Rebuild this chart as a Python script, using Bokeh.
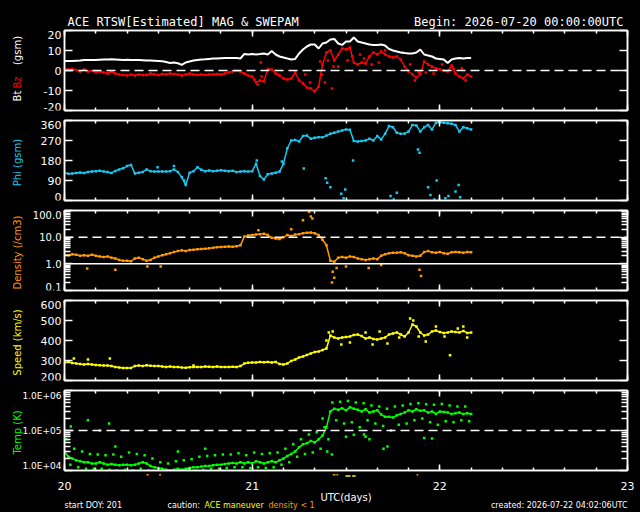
import math
import numpy as np
from bokeh.plotting import figure
from bokeh.layouts import column, row
from bokeh.models import Range1d, LinearAxis, LogAxis, FixedTicker, Span
from bokeh.core.properties import value
from bokeh.embed import file_html
from bokeh.resources import INLINE

# ---------------- data ----------------
START_DAY = 20        # axis starts at day 20 (UTC days)
STEP_HOURS = 0.5      # sample spacing of the main series (hours)

bt = [4.8, 4.8, 4.8, 4.9, 5.0, 5.2, 5.3, 5.3, 5.3, 5.4,
      5.5, 5.5, 5.6, 5.5, 5.4, 5.3, 5.4, 5.3, 5.3, 5.2,
      5.1, 5.0, 5.0, 4.9, 4.8, 4.6, 4.2, 3.8, 4.0, 3.6,
      2.8, 4.0, 4.5, 5.0, 5.3, 5.5, 5.6, 5.8, 6.0, 6.0,
      6.1, 6.2, 6.2, 6.3, 6.3, 6.0, 8.3, 8.0, 8.3, 8.0,
      8.2, 8.5, 8.0, 9.7, 8.0, 7.0, 6.5, 6.0, 5.5, 5.8,
      8.5, 10.5, 12.0, 13.0, 13.0, 11.0, 13.5, 14.0, 15.5, 15.8,
      13.5, 12.8, 14.5, 14.5, 16.5, 14.5, 14.0, 13.5, 13.0, 12.8,
      12.8, 13.0, 12.5, 10.8, 10.0, 9.5, 9.0, 8.7, 8.5, 8.5,
      9.0, 10.5, 8.0, 7.5, 7.0, 6.0, 5.8, 5.5, 3.8, 5.5,
      6.0, 6.2, 6.0, 6.2, 6.3]

bz = [1.0, 0.5, 0.8, 0.2, -0.5, 0.5, -0.5, -0.3, -0.8, -0.5,
      -1.0, -1.5, -0.5, -1.5, -2.0, -2.3, -2.5, -2.0, -2.5, -2.0,
      -2.3, -2.2, -1.5, -2.0, -2.2, -1.8, -2.0, -1.5, -1.8, -2.0,
      -2.5, -2.0, -1.5, -2.0, -2.3, -2.0, -2.2, -2.0, -2.0, -1.8,
      -2.0, -1.5, -1.0, -0.5, -0.3, -0.5, -1.5, -2.5, -3.0, -6.0,
      -5.0, -5.5, 0.8, 0.5, -1.5, -2.5, -4.0, -4.5, -4.0, -1.0,
      -5.0, -6.5, -8.5, -9.0, -10.5, -8.0, 3.0, 9.0, 10.0, 5.0,
      8.0, 11.0, 10.5, 11.5, 4.0, 3.0, 4.0, 3.5, 7.0, 9.0,
      8.0, 9.5, 8.0, 7.0, 6.5, 7.0, 5.5, 2.0, -0.5, -2.0,
      -3.5, -2.0, 4.5, 3.0, 2.0, 1.0, 0.5, 0.0, -0.5, 2.5,
      -1.5, -3.0, -4.0, -2.0, -3.0]
bz_extra_h = [24.3, 24.7, 25.1, 25.2, 30.8, 31.4, 32.7, 32.9, 33.3, 33.7,
              34.2, 34.4, 35.0, 36.2, 36.8, 37.8, 38.3, 39.3, 40.2, 41.0,
              43.2, 44.2, 44.8, 45.3, 46.2, 47.2, 48.3, 49.8, 50.8, 51.3]
bz_extra = [-4.5, -7.0, 4.0, -3.0, -2.0, -6.0, 4.5, -2.0, -6.0, 5.0,
            -9.0, 2.0, 2.0, 5.0, 7.0, 8.0, 6.0, 3.0, 4.0, 10.0,
            9.0, 3.0, -5.0, -1.0, -1.0, -1.5, 3.0, 0.5, 1.0, -5.0]

phi = [125, 120, 122, 124, 126, 124, 128, 130, 132, 134,
       130, 128, 124, 133, 140, 145, 155, 160, 122, 125,
       128, 140, 132, 130, 130, 130, 130, 132, 140, 128,
       105, 70, 125, 132, 150, 138, 132, 135, 132, 134,
       136, 134, 132, 134, 128, 130, 132, 130, 132, 165,
       110, 95, 118, 122, 125, 130, 165, 235, 270, 272,
       265, 290, 292, 278, 282, 285, 285, 292, 300, 305,
       310, 315, 320, 318, 268, 265, 268, 270, 278, 270,
       290, 275, 300, 335, 330, 305, 300, 302, 310, 340,
       338, 310, 330, 340, 320, 350, 352, 350, 348, 345,
       340, 310, 330, 325, 320]
phi_extra_h = [33.4, 33.6, 34.0, 35.4, 35.7, 35.9, 41.7, 42.1, 42.5, 46.5,
               46.8, 47.3, 47.6, 48.7, 49.1, 50.0, 50.4, 50.6, 45.2, 45.4,
               36.9, 30.6, 27.8, 24.6, 15.3, 14.0, 11.9]
phi_extra = [100, 80, 60, 30, 10, 50, 20, 5, 35, 60,
             25, 5, 90, 10, 20, 40, 70, 15, 230, 215,
             180, 144, 175, 180, 90, 155, 150]

density = [2.2, 2.1, 2.3, 2.2, 2.0, 2.1, 2.0, 2.2, 2.0, 1.9,
           1.8, 1.9, 1.7, 1.6, 1.4, 1.3, 1.3, 1.25, 1.6, 1.7,
           1.5, 1.3, 1.4, 1.7, 1.9, 2.1, 2.3, 2.5, 2.8, 3.0,
           3.2, 3.0, 3.3, 3.4, 3.5, 3.6, 3.7, 3.8, 4.0, 4.2,
           4.3, 4.4, 4.5, 4.4, 4.6, 5.0, 10.5, 11.5, 12.0, 12.5,
           13.0, 13.5, 12.0, 9.5, 9.0, 8.5, 10.0, 12.0, 11.0, 12.5,
           13.0, 14.0, 14.5, 15.0, 14.0, 12.0, 8.0, 5.0, 1.3, 1.2,
           1.7, 1.8, 1.7, 1.9, 1.8, 1.6, 1.5, 1.4, 1.5, 1.6,
           1.5, 2.0, 2.3, 2.5, 2.6, 2.6, 2.7, 2.5, 2.1, 2.0,
           1.9, 2.0, 2.8, 3.0, 2.7, 2.6, 2.8, 2.5, 2.4, 2.7,
           2.8, 2.7, 2.6, 2.8, 2.7]
density_extra_h = [34.3, 34.5, 34.2, 34.8, 45.4, 45.6, 2.9, 6.5, 10.6, 12.3,
                   31.3, 31.5, 31.7, 30.5, 29.0, 24.8, 36.0, 38.9, 40.5]
density_extra = [0.5, 0.3, 0.2, 0.7, 0.6, 0.35, 0.67, 0.6, 0.8, 0.8,
                 90, 60, 50, 43, 20, 18, 0.8, 0.7, 0.9]

speed = [290, 292, 288, 285, 282, 280, 282, 280, 278, 276,
         275, 275, 272, 268, 265, 263, 262, 263, 272, 275,
         273, 276, 274, 273, 272, 270, 268, 270, 267, 268,
         265, 264, 266, 267, 268, 268, 270, 269, 268, 270,
         268, 267, 268, 269, 268, 272, 285, 289, 290, 290,
         292, 291, 292, 290, 292, 283, 280, 285, 298, 305,
         315, 320, 328, 335, 342, 345, 352, 360, 425, 415,
         410, 415, 418, 420, 428, 430, 422, 410, 415, 408,
         405, 410, 415, 430, 435, 440, 430, 420, 440, 480,
         470, 440, 425, 430, 445, 450, 442, 438, 440, 445,
         442, 440, 448, 438, 440]
speed_extra_h = [1.2, 3.0, 5.8, 16.5, 33.8, 34.3, 33.5, 35.4, 36.5, 38.5,
                 39.4, 40.3, 41.3, 42.8, 44.2, 44.6, 45.3, 46.2, 47.5, 48.6,
                 50.3, 51.0, 51.5, 49.3]
speed_extra = [310, 305, 310, 275, 440, 445, 400, 380, 390, 440,
               380, 445, 385, 415, 510, 500, 420, 395, 470, 420,
               460, 470, 415, 326]

TEMP_UNIT = 1.0e4     # temperature lists are in units of 1e4 K
temp = [3.0, 2.2, 2.0, 1.8, 1.7, 1.6, 1.6, 1.5, 1.5, 1.6,
        1.5, 1.4, 1.45, 1.4, 1.35, 1.4, 1.4, 1.35, 1.4, 1.5,
        1.6, 1.5, 1.3, 1.2, 1.15, 1.1, 1.05, 1.0, 1.05, 1.1,
        1.05, 1.1, 1.15, 1.2, 1.2, 1.25, 1.3, 1.3, 1.35, 1.4,
        1.4, 1.45, 1.5, 1.55, 1.5, 1.6, 1.5, 1.6, 1.5, 1.7,
        1.6, 1.5, 1.6, 1.7, 1.6, 1.8, 2.0, 2.3, 2.6, 3.0,
        3.8, 4.5, 4.8, 5.5, 5.0, 6.0, 7.5, 12.0, 30.0, 35.0,
        33.0, 36.0, 32.0, 38.0, 35.0, 33.0, 30.0, 34.0, 28.0, 30.0,
        32.0, 25.0, 22.0, 22.0, 21.0, 24.0, 26.0, 28.0, 32.0, 30.0,
        34.0, 31.0, 32.0, 28.0, 30.0, 26.0, 30.0, 29.0, 28.0, 26.0,
        27.0, 28.0, 26.0, 27.0, 26.0]
temp_hi = [6.0, 3.5, 3.0, 2.6, 2.5, 2.4, 2.5, 2.2, 2.8, 2.6,
           2.4, 2.0, 1.6, 1.5, 1.7, 1.8, 1.9, 2.2, 2.3, 2.4,
           2.5, 2.5, 2.7, 2.4, 2.8, 2.6, 2.7, 2.8, 3.5, 4.5,
           6.0, 8.0, 9.0, 12.0, 50, 52, 55, 50, 48, 42,
           40, 35, 40, 42, 46, 48, 45, 44, 46, 42,
           40, 40]
temp_lo = [1.4, 1.2, 1.1, 1.1, 1.1, 1.05, 1.0, 1.05, 1.0, 1.1,
           1.0, 0.95, 0.9, 0.9, 0.95, 1.0, 1.0, 1.05, 1.1, 1.1,
           1.15, 1.2, 1.2, 1.15, 1.2, 1.15, 1.2, 1.4, 1.6, 2.2,
           2.6, 2.8, 3.5, 6.0, 18, 15, 16, 12, 18, 15,
           13, 10, 14, 15, 18, 20, 16, 14, 17, 16,
           18, 17]
temp_extra_h = [0.8, 3.0, 4.5, 5.7, 6.5, 14.5, 18.0, 33.0, 36.0, 38.3,
                39.0, 40.8, 41.3, 37.0, 38.5, 46.0, 47.0, 34.2, 33.6]
temp_extra = [12.6, 18.0, 10.0, 15.0, 4.0, 3.0, 3.5, 20.0, 7.0, 8.0,
              6.0, 3.5, 4.0, 7.8, 7.0, 6.5, 6.3, 2.5, 3.0]

# caution flags (start/end in days) drawn under the last panel
maneuver_start = [21.497, 21.533]
maneuver_end = [21.524, 21.551]
lowdens_start = [20.437, 20.504, 21.430, 21.449, 21.876]
lowdens_end = [20.448, 20.514, 21.444, 21.458, 21.885]

# axis ticks and labels
day_ticks = [20, 21, 22, 23]
day_labels = ["20", "21", "22", "23"]
day_minor = [20 + k / 6 for k in range(19)]
bz_ticks = [-20, -10, 0, 10, 20]
bz_labels = ["-20", "-10", "0", "10", "20"]
phi_ticks = [0, 90, 180, 270, 360]
phi_labels = ["0", "90", "180", "270", "360"]
dens_ticks = [0.1, 1, 10, 100]
dens_labels = ["0.1", "1.0", "10.0", "100.0"]
dens_minor = [m * 10.0 ** e for e in (-1, 0, 1) for m in range(2, 10)]
speed_ticks = [200, 300, 400, 500, 600]
speed_labels = ["200", "300", "400", "500", "600"]
temp_ticks = [1e4, 1e5, 1e6]
temp_labels = ["1.0E+04", "1.0E+05", "1.0E+06"]
temp_minor = [m * 10.0 ** e for e in (4, 5) for m in range(2, 10)]

# ---------------- layout constants ----------------
FONT = "DejaVu Sans"
MONO = "DejaVu Sans Mono"
C_BZ = "#ff0000"
C_PHI = "#18c8f0"
C_DEN = "#ff9900"
C_SPD = "#ffff00"
C_TMP = "#00ff00"
STRIP_W = 62          # width of the left label strip
FRAME_H = 80
PX_PER_DAY = 563 / 3  # plot frame width / 3 days
TICKLAB_X = 61
BLACK = {"background-color": "#000000"}


def stacked(z, overlap=False):
    """black block style; later blocks sit above earlier ones"""
    st = {"background-color": "#000000", "position": "relative", "z-index": str(z)}
    if overlap:
        st["margin-bottom"] = "-1px"
    return st


def to_day(h):
    return START_DAY + np.asarray(h, dtype=float) / 24.0


def main_days(series):
    return to_day(np.arange(len(series)) * STEP_HOURS)


AX = dict(axis_line_color="white", axis_line_width=1.5,
          major_tick_line_color="white", major_tick_line_width=1.5,
          minor_tick_line_color="white", minor_tick_line_width=1.5,
          major_tick_out=0, minor_tick_out=0)


def tick_axis(axcls, ticks, minor, maj_in, min_in):
    return axcls(ticker=FixedTicker(ticks=ticks, minor_ticks=minor),
                 major_label_overrides={t: "" for t in ticks},
                 major_label_text_font_size="0px", major_label_standoff=0,
                 major_tick_in=maj_in, minor_tick_in=min_in, **AX)


def blank(width, height, xr, yr, log=False, top=0, bottom=0, styles=None):
    p = figure(width=width, height=height, x_range=xr, y_range=yr,
               y_axis_type="log" if log else "linear",
               x_axis_location=None, y_axis_location=None,
               output_backend="svg", toolbar_location=None,
               min_border_left=0, min_border_right=0,
               min_border_top=top, min_border_bottom=bottom,
               background_fill_color="black", border_fill_color="black",
               outline_line_color=None, styles=styles or BLACK)
    p.grid.visible = False
    return p


def panel(top, bottom, ylo, yhi, log, yticks, yminor):
    p = figure(width=640 - STRIP_W, height=top + FRAME_H + bottom,
               x_range=Range1d(20, 23), y_range=Range1d(ylo, yhi),
               y_axis_type="log" if log else "linear",
               x_axis_location=None, y_axis_location=None,
               output_backend="svg", toolbar_location=None,
               min_border_left=64 - STRIP_W, min_border_right=13,
               min_border_top=top, min_border_bottom=bottom,
               background_fill_color="black", border_fill_color="black",
               outline_line_color="white", outline_line_width=1.5, styles=BLACK)
    p.grid.visible = False
    Y = LogAxis if log else LinearAxis
    p.add_layout(tick_axis(Y, yticks, yminor, 8, 6), "left")
    p.add_layout(tick_axis(Y, yticks, yminor, 8, 6), "right")
    p.add_layout(tick_axis(LinearAxis, day_ticks, day_minor, 6, 3), "above")
    p.add_layout(tick_axis(LinearAxis, day_ticks, day_minor, 6, 3), "below")
    return p


def y_at(p, log, rel_px):
    """value that sits rel_px pixels above the bottom of panel p's frame"""
    lo, hi = p.y_range.start, p.y_range.end
    if log:
        return 10 ** (math.log10(lo) + rel_px / FRAME_H * (math.log10(hi) - math.log10(lo)))
    return lo + rel_px / FRAME_H * (hi - lo)


def strip(p, log, ticks, labels, size):
    s = blank(STRIP_W, p.height, Range1d(0, STRIP_W), p.y_range, log=log,
              top=p.min_border_top, bottom=p.min_border_bottom)
    common = dict(text_color="white", text_font=value(FONT), text_font_size=size,
                  text_align="right")
    n = len(ticks)
    s.text(x=[TICKLAB_X] * (n - 2), y=ticks[1:-1], text=labels[1:-1],
           text_baseline="middle", **common)
    s.text(x=[TICKLAB_X], y=[ticks[-1]], text=[labels[-1]], text_baseline="top", **common)
    s.text(x=[TICKLAB_X], y=[ticks[0]], text=[labels[0]], text_baseline="bottom", **common)
    return s


def ytitle(s, p, log, text, color, rel=38):
    s.text(x=[17], y=[y_at(p, log, rel)], text=[text], angle=math.pi / 2,
           text_align="center", text_baseline="middle", text_color=color,
           text_font=value(FONT), text_font_size="10px")


def dash(p, loc, dashed=True):
    p.add_layout(Span(location=loc, dimension="width", line_color="white",
                      line_width=1.5, line_dash="9 5" if dashed else "solid"))


def trace(p, days, vals, color, lw=1.5, size=2.5):
    p.line(days, vals, line_color=color, line_width=lw)
    p.scatter(days, vals, marker="square", size=size, fill_color=color, line_color=None)


def dots(p, days, vals, color, size=2.5):
    p.scatter(days, vals, marker="square", size=size, fill_color=color, line_color=None)


def note(p, x, y, text, color="white", align="left", size="8px", font=FONT, **kw):
    p.text(x=[x], y=[y], text=[text], text_align=align, text_baseline="bottom",
           text_color=color, text_font=value(font), text_font_size=size, **kw)


# ---------------- header strip ----------------
head = blank(640, 29, Range1d(0, 640), Range1d(0, 29), styles=stacked(1))
note(head, 67, 1, "ACE RTSW[Estimated] MAG & SWEPAM", size="12px", font=MONO)
note(head, 623, 1, "Begin: 2026-07-20 00:00:00UTC", align="right", size="12px", font=MONO)

# ---------------- panel 1: Bt / Bz ----------------
p1 = panel(1, 6, -20, 20, False, bz_ticks, [])
dash(p1, 0)
trace(p1, main_days(bz), bz, C_BZ)
dots(p1, to_day(bz_extra_h), bz_extra, C_BZ)
p1.line(main_days(bt), bt, line_color="white", line_width=2)
s1 = strip(p1, False, bz_ticks, bz_labels, "11px")
ytitle(s1, p1, False, "Bt", "white", rel=14.5)
ytitle(s1, p1, False, "Bz", C_BZ, rel=28)
ytitle(s1, p1, False, "(gsm)", "white", rel=60)

# ---------------- panel 2: Phi ----------------
p2 = panel(5, 6, 0, 360, False, phi_ticks, [])
trace(p2, main_days(phi), phi, C_PHI)
dots(p2, to_day(phi_extra_h), phi_extra, C_PHI)
s2 = strip(p2, False, phi_ticks, phi_labels, "11px")
ytitle(s2, p2, False, "Phi (gsm)", C_PHI)

# ---------------- panel 3: Density ----------------
p3 = panel(5, 6, 0.1, 100, True, dens_ticks, dens_minor)
dash(p3, 10)
dash(p3, 1, dashed=False)
trace(p3, main_days(density), density, C_DEN)
dots(p3, to_day(density_extra_h), density_extra, C_DEN)
s3 = strip(p3, True, dens_ticks, dens_labels, "10px")
ytitle(s3, p3, True, "Density (/cm3)", C_DEN)

# ---------------- panel 4: Speed ----------------
p4 = panel(5, 6, 200, 600, False, speed_ticks, [])
trace(p4, main_days(speed), speed, C_SPD)
dots(p4, to_day(speed_extra_h), speed_extra, C_SPD)
s4 = strip(p4, False, speed_ticks, speed_labels, "11px")
ytitle(s4, p4, False, "Speed (km/s)", C_SPD)

# ---------------- panel 5: Temperature ----------------
p5 = panel(5, 3, 1e4, 1e6, True, temp_ticks, temp_minor)
dash(p5, 1e5)
trace(p5, main_days(temp), np.array(temp) * TEMP_UNIT, C_TMP)
dots(p5, to_day(0.25 + np.arange(len(temp_hi))), np.array(temp_hi) * TEMP_UNIT, C_TMP)
dots(p5, to_day(0.75 + np.arange(len(temp_lo))), np.array(temp_lo) * TEMP_UNIT, C_TMP)
dots(p5, to_day(temp_extra_h), np.array(temp_extra) * TEMP_UNIT, C_TMP)
s5 = strip(p5, True, temp_ticks, temp_labels, "9px")
ytitle(s5, p5, True, "Temp (K)", C_TMP)

# ---------------- footer strip (x labels, flags, notes) ----------------
foot = blank(640, 40, Range1d(20 - 64 / PX_PER_DAY, 23 + 13 / PX_PER_DAY), Range1d(0, 40),
             styles=stacked(8))
foot.extra_x_ranges = {"px": Range1d(0, 640)}
foot.text(x=day_ticks, y=[22.5] * len(day_ticks), text=day_labels, text_align="center",
          text_baseline="bottom", text_color="white", text_font=value(FONT),
          text_font_size="11px")
note(foot, 21.5, 9.5, "UTC(days)", align="center", size="10px")
foot.segment(x0=lowdens_start, x1=lowdens_end, y0=[37.7] * len(lowdens_start),
             y1=[37.7] * len(lowdens_start), line_color=C_DEN, line_width=1.5)
foot.segment(x0=maneuver_start, x1=maneuver_end, y0=[36.5] * len(maneuver_start),
             y1=[36.5] * len(maneuver_start), line_color=C_SPD, line_width=1.5)
notes_x = [64, 167, 204, 268]
notes = ["start DOY: 201", "caution:", "ACE maneuver", "density < 1"]
notes_c = ["white", "white", C_SPD, C_DEN]
for nx, nt, nc in zip(notes_x, notes, notes_c):
    note(foot, nx, 2.5, nt, color=nc, x_range_name="px")
note(foot, 627, 2.5, "created: 2026-07-22 04:02:06UTC", align="right", x_range_name="px")

rows = [row(s, p, spacing=0, styles=stacked(2 + k, overlap=True))
        for k, (s, p) in enumerate(((s1, p1), (s2, p2), (s3, p3), (s4, p4), (s5, p5)))]
layout = column(head, *rows, foot, spacing=0, styles=BLACK)
html = file_html(layout, INLINE)
# black page behind the plots (the body tag is the last "<body" in the file)
i = html.rfind("<body")
j = html.index(">", i)
html = (html[:j + 1]
        + "\n<style>html, body { background-color: #000000 !important; margin: 0; }</style>"
        + html[j + 1:])
open("out.html", "w").write(html)
